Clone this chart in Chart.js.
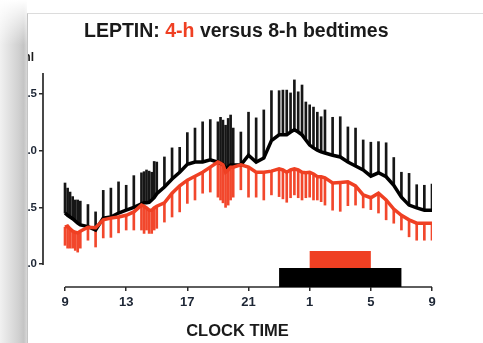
<!DOCTYPE html>
<html>
<head>
<meta charset="utf-8">
<script src="https://cdn.jsdelivr.net/npm/chart.js@4.4.1/dist/chart.umd.min.js"></script>
<style>
  html, body { margin: 0; padding: 0; width: 483px; height: 343px; overflow: hidden; background: #fff; }
  #shade { position: absolute; left: 0; top: 0; width: 27px; height: 343px;
    background: linear-gradient(to right, #f1f1f1 0%, #d0d0d0 70%, #c4c4c4 88%, #d8d8d8 100%); }
  #shadeTop { position: absolute; left: 0; top: 0; width: 27px; height: 45px;
    background: linear-gradient(to bottom, #fff 0%, rgba(255,255,255,0) 100%); }
  #card { position: absolute; left: 27px; top: 13px; right: 0; bottom: 0; overflow: hidden; background: #fff;
    border-left: 1px solid #c4c4c4; border-top: 1px solid #dcdcdc; }
  #card canvas { position: absolute; left: -28px; top: -14px; }
  #title { position: absolute; left: 56px; top: 7px; font: bold 19.5px 'Liberation Sans', Arial, sans-serif;
    line-height: 19px; color: #1a1a1a; white-space: nowrap; }
  #title span { color: #ef4023; }
  #unit { position: absolute; left: -40px; width: 46px; top: 37px; text-align: right;
    font: bold 12px 'Liberation Sans', Arial, sans-serif; line-height: 12px; color: #1a1a1a; }
</style>
</head>
<body>
<div id="shade"></div>
<div id="shadeTop"></div>
<div id="card">
  <canvas id="myChart" width="483" height="343"></canvas>
  <div id="title">LEPTIN: <span>4-h</span> versus 8-h bedtimes</div>
  <div id="unit">ng/ml</div>
</div>
<script>
const ctx = document.getElementById('myChart');

// hours after 9:00 (sampling times)
const hours = [0, 0.17, 0.33, 0.5, 0.67, 0.83, 1,
  1.5, 2, 2.5, 3, 3.5, 4, 4.5,
  5, 5.17, 5.33, 5.5, 5.67, 5.83, 6,
  6.5, 7, 7.5, 8, 8.5, 9, 9.5,
  10, 10.17, 10.33, 10.5, 10.67, 10.83, 11,
  11.5, 12, 12.5, 13, 13.5,
  14, 14.25, 14.5, 14.75, 15, 15.25, 15.5, 15.75, 16, 16.25, 16.5, 16.75, 17,
  17.5, 18, 18.5, 19, 19.5, 20, 20.5, 21, 21.5, 22, 22.5, 23, 23.5, 24];

// 8-h bedtimes (black): mean and SEM
const leptin8h = [.45, .43, .415, .40, .38, .36, .345,
  .33, .30, .405, .415, .45, .475, .50,
  .53, .54, .54, .545, .565, .585, .62,
  .68, .75, .81, .88, .90, .90, .92,
  .90, .89, .88, .845, .855, .875, .875,
  .875, .96, .90, .935, 1.09,
  1.14, 1.14, 1.14, 1.165, 1.185, 1.165, 1.14, 1.095, 1.05, 1.025, 1.005, .99, .98,
  .96, .945, .90, .865, .83, .775, .805, .77, .695, .59, .52, .495, .475, .475];
const sem8h = [.265, .24, .22, .195, .185, .205, .21,
  .195, .16, .245, .255, .275, .22, .28,
  .275, .275, .29, .275, .245, .32, .28,
  .265, .275, .22, .28, .30, .355, .355,
  .355, .405, .39, .38, .43, .44, .325,
  .29, .38, .39, .425, .44,
  .39, .395, .395, .345, .44, .355, .44, .335, .355, .36, .335, .31, .38,
  .335, .355, .31, .335, .265, .30, .275, .30, .245, .22, .28, .205, .22, .23];

// 4-h bedtimes (red): mean and SEM
const leptin4h = [.325, .335, .31, .29, .28, .275, .29,
  .325, .32, .39, .405, .415, .43, .46,
  .52, .51, .495, .475, .475, .495, .51,
  .54, .625, .69, .74, .775, .81, .855,
  .90, .89, .875, .81, .83, .855, .855,
  .875, .855, .81, .81, .82,
  .84, .83, .81, .83, .84, .83, .81, .805, .81, .795, .77, .77, .76,
  .715, .72, .725, .69, .61, .585, .625, .565, .485, .43, .39, .36, .36, .36];
const sem4h = [.16, .195, .17, .15, .16, .17, .15,
  .115, .17, .16, .17, .14, .13, .16,
  .22, .24, .195, .205, .205, .195, .195,
  .17, .21, .23, .205, .21, .185, .22,
  .31, .325, .335, .31, .31, .29, .265,
  .22, .265, .22, .245, .21,
  .245, .255, .265, .245, .23, .245, .245, .22, .22, .23, .205, .22, .24,
  .24, .255, .21, .17, .115, .105, .175, .175, .125, .13, .15, .15, .15, .15];

// bedtimes, clock hours [lights off, lights on]
const bed8h = [23, 7];
const bed4h = [1, 5];

const xTicks = [0, 4, 8, 12, 16, 20, 24];
const yTicks = [0, 0.5, 1.0, 1.5];

const RED = '#ef4023';
const fontFam = "'Liberation Sans', Arial, sans-serif";

function toHours(clock) {
    return (clock - 9 + 24) % 24;
}

const axesAndBeds = {
    id: 'axesAndBeds',
    afterDatasetsDraw(chart) {
        const c = chart.ctx;
        const area = chart.chartArea;
        const x = chart.scales.x;
        const y = chart.scales.y;
        c.save();
        c.strokeStyle = '#2a2a2a';
        c.lineWidth = 1.7;
        c.beginPath();
        c.moveTo(area.left, area.top);
        c.lineTo(area.left, y.getPixelForValue(0) + 1);
        c.moveTo(x.getPixelForValue(xTicks[0]), area.bottom);
        c.lineTo(x.getPixelForValue(xTicks[xTicks.length - 1]), area.bottom);
        c.stroke();
        // bedtime bars
        let x0 = x.getPixelForValue(toHours(bed8h[0]));
        let x1 = x.getPixelForValue(toHours(bed8h[1]));
        c.fillStyle = '#000';
        c.fillRect(x0, area.bottom - 19, x1 - x0, 19);
        x0 = x.getPixelForValue(toHours(bed4h[0]));
        x1 = x.getPixelForValue(toHours(bed4h[1]));
        c.fillStyle = RED;
        c.fillRect(x0, area.bottom - 36, x1 - x0, 17);
        c.restore();
    }
};

new Chart(ctx, {
    type: 'line',
    data: {
        datasets: [
            {
                type: 'bar',
                data: hours.map((h, i) => ({ x: h, y: [leptin8h[i], leptin8h[i] + sem8h[i]] })),
                backgroundColor: '#161616',
                barThickness: 2,
                grouped: false,
                order: 4
            },
            {
                type: 'bar',
                data: hours.map((h, i) => ({ x: h, y: [leptin4h[i] - sem4h[i], leptin4h[i]] })),
                backgroundColor: '#f2472c',
                barThickness: 2,
                grouped: false,
                order: 3
            },
            {
                label: '8-h',
                data: hours.map((h, i) => ({ x: h, y: leptin8h[i] })),
                borderColor: '#000',
                borderWidth: 3.5,
                pointRadius: 0,
                tension: 0,
                order: 2
            },
            {
                label: '4-h',
                data: hours.map((h, i) => ({ x: h, y: leptin4h[i] })),
                borderColor: RED,
                borderWidth: 3.5,
                pointRadius: 0,
                tension: 0,
                order: 1
            }
        ]
    },
    options: {
        responsive: false,
        animation: false,
        layout: { padding: { left: 13, top: 73, right: 51, bottom: 0 } },
        plugins: {
            legend: { display: false },
            tooltip: { enabled: false }
        },
        scales: {
            x: {
                type: 'linear',
                min: -1.44,
                max: 24,
                offset: false,
                afterBuildTicks: s => { s.ticks = xTicks.map(v => ({ value: v })); },
                afterFit: s => { s.height = 56; },
                ticks: {
                    autoSkip: false,
                    maxRotation: 0,
                    padding: 4,
                    color: '#1d2635',
                    font: { family: fontFam, size: 13, weight: 'bold' },
                    callback: v => String((9 + v) % 24 === 0 ? 24 : (9 + v) % 24)
                },
                grid: { drawOnChartArea: false, drawTicks: true, tickLength: 4, color: '#2a2a2a', lineWidth: 1.5, offset: false },
                border: { display: false },
                title: {
                    display: true,
                    text: 'CLOCK TIME',
                    color: '#1a1a1a',
                    padding: { top: 0, bottom: 2 },
                    font: { family: fontFam, size: 16.5, weight: 'bold' }
                }
            },
            y: {
                min: -0.203,
                max: 1.686,
                afterBuildTicks: s => { s.ticks = yTicks.map(v => ({ value: v })); },
                afterFit: s => { s.width = 30; },
                ticks: {
                    padding: 2,
                    color: '#1d2635',
                    font: { family: fontFam, size: 11.5, weight: 'bold' },
                    callback: v => v.toFixed(1)
                },
                grid: { drawOnChartArea: false, drawTicks: true, tickLength: 4, color: '#2a2a2a', lineWidth: 1.5 },
                border: { display: false }
            }
        }
    },
    plugins: [axesAndBeds]
});
</script>
</body>
</html>
